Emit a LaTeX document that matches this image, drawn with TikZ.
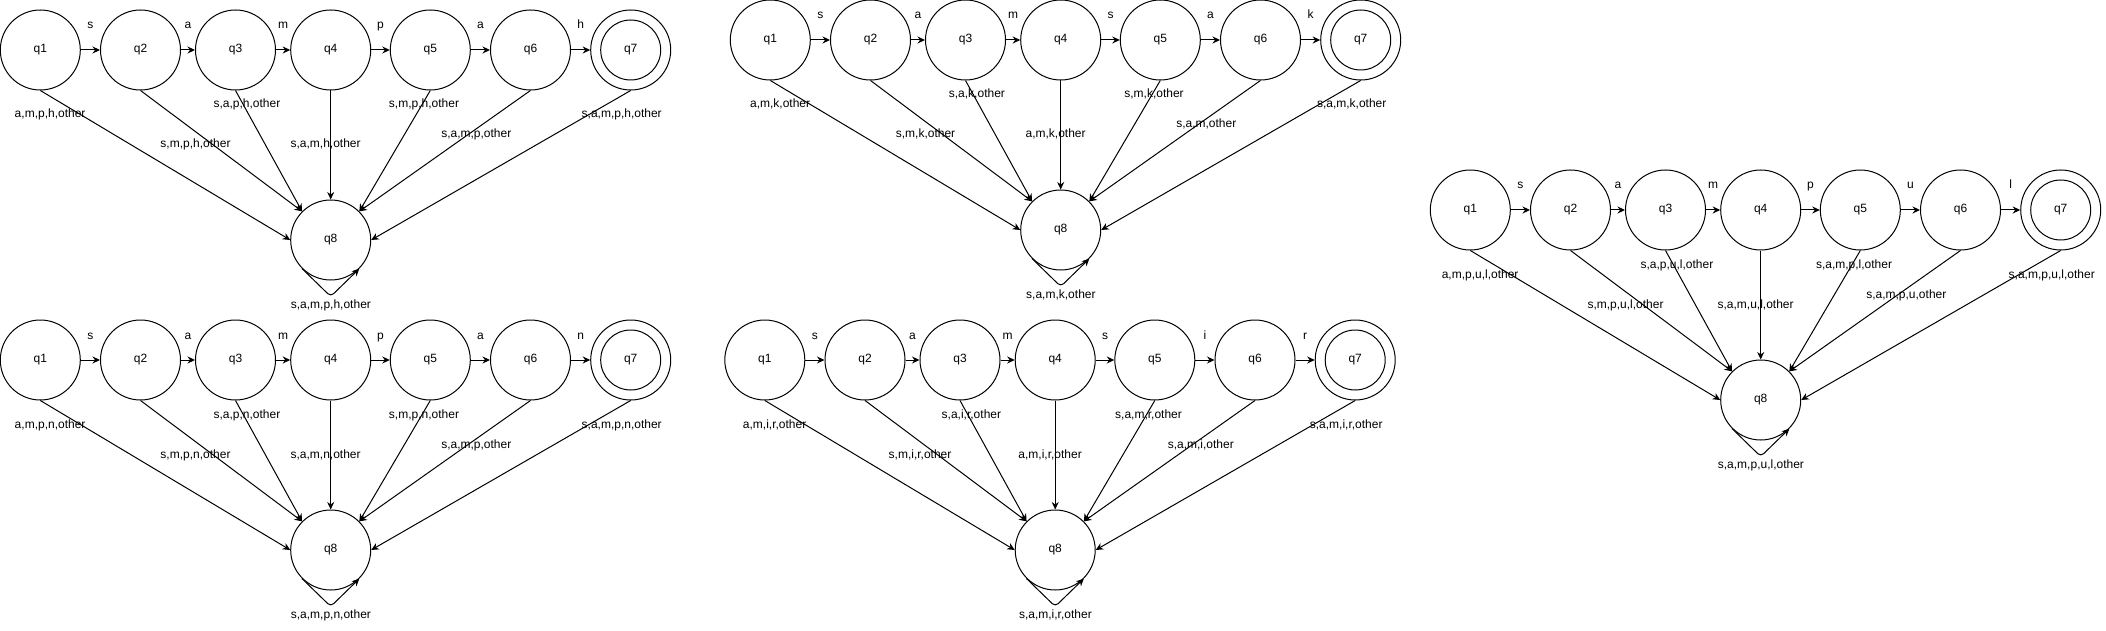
\documentclass[tikz,border=0pt]{standalone}
\usepackage{fontspec}
\setmainfont{Liberation Sans}
\usetikzlibrary{arrows.meta}

\begin{document}
\begin{tikzpicture}
[x=1pt,y=-1pt,line width=1pt,%
  every node/.style={font=\fontsize{12}{14}\selectfont},%
  state/.style={shape=circle,draw,minimum size=80pt,inner sep=0pt},%
  sym/.style={yshift=24pt,text height=8.5pt,text depth=2.5pt,inner sep=0pt},%
  lab/.style={text height=8.5pt,text depth=2.5pt,inner sep=0pt},%
  go/.style={-{Stealth[length=7.5pt,width=7pt]}}]
\useasboundingbox (0,0) rectangle (2106,631);

\begin{scope}[shift={(0,0)},name prefix=sampah-]
\node[state] (q1) at (40.3,50) {q1};
\node[state] (q2) at (140.5,50) {q2};
\node[state] (q3) at (235.5,50) {q3};
\node[state] (q4) at (330.7,50) {q4};
\node[state] (q5) at (430.3,50) {q5};
\node[state] (q6) at (530.5,50) {q6};
\node[state] (q7) at (630.7,50) {q7};
\node[state] (q8) at (330.7,240) {q8};
\draw (q7) circle[radius=30pt];
\draw[go] (q1) -- node[sym] {s} (q2);
\draw[go] (q2) -- node[sym] {a} (q3);
\draw[go] (q3) -- node[sym] {m} (q4);
\draw[go] (q4) -- node[sym] {p} (q5);
\draw[go] (q5) -- node[sym] {a} (q6);
\draw[go] (q6) -- node[sym] {h} (q7);
\draw[go] (q1.south) -- (q8.west);
\draw[go] (q2.south) -- (q8.north west);
\draw[go] (q3.south) -- (q8.north west);
\draw[go] (q4.south) -- (q8.north);
\draw[go] (q5.south) -- (q8.north east);
\draw[go] (q6.south) -- (q8.north east);
\draw[go] (q7.south) -- (q8.east);
\draw[go,rounded corners=4pt] (q8.south west) -- ([yshift=-16pt]q8.south) -- (q8.south east);
\node[lab] (r1) at (50.1,115) {a,m,p,h,other};
\node[lab] (r2) at (195.5,145) {s,m,p,h,other};
\node[lab] (r3) at (246.9,105) {s,a,p,h,other};
\node[lab] (r4) at (325.6,145) {s,a,m,h,other};
\node[lab] (r5) at (424,105) {s,m,p,h,other};
\node[lab] (r6) at (476.3,135) {s,a,m,p,other};
\node[lab] (r7) at (621.7,115) {s,a,m,p,h,other};
\node[lab] (r8) at (330.9,305) {s,a,m,p,h,other};
\end{scope}

\begin{scope}[shift={(0,310)},name prefix=sampan-]
\node[state] (q1) at (40.3,50) {q1};
\node[state] (q2) at (140.5,50) {q2};
\node[state] (q3) at (235.5,50) {q3};
\node[state] (q4) at (330.7,50) {q4};
\node[state] (q5) at (430.3,50) {q5};
\node[state] (q6) at (530.5,50) {q6};
\node[state] (q7) at (630.7,50) {q7};
\node[state] (q8) at (330.7,240) {q8};
\draw (q7) circle[radius=30pt];
\draw[go] (q1) -- node[sym] {s} (q2);
\draw[go] (q2) -- node[sym] {a} (q3);
\draw[go] (q3) -- node[sym] {m} (q4);
\draw[go] (q4) -- node[sym] {p} (q5);
\draw[go] (q5) -- node[sym] {a} (q6);
\draw[go] (q6) -- node[sym] {n} (q7);
\draw[go] (q1.south) -- (q8.west);
\draw[go] (q2.south) -- (q8.north west);
\draw[go] (q3.south) -- (q8.north west);
\draw[go] (q4.south) -- (q8.north);
\draw[go] (q5.south) -- (q8.north east);
\draw[go] (q6.south) -- (q8.north east);
\draw[go] (q7.south) -- (q8.east);
\draw[go,rounded corners=4pt] (q8.south west) -- ([yshift=-16pt]q8.south) -- (q8.south east);
\node[lab] (r1) at (50.1,115) {a,m,p,n,other};
\node[lab] (r2) at (195.5,145) {s,m,p,n,other};
\node[lab] (r3) at (246.9,105) {s,a,p,n,other};
\node[lab] (r4) at (325.6,145) {s,a,m,n,other};
\node[lab] (r5) at (424,105) {s,m,p,n,other};
\node[lab] (r6) at (476.3,135) {s,a,m,p,other};
\node[lab] (r7) at (621.7,115) {s,a,m,p,n,other};
\node[lab] (r8) at (330.9,305) {s,a,m,p,n,other};
\end{scope}

\begin{scope}[shift={(730,-10)},name prefix=samsak-]
\node[state] (q1) at (40.3,50) {q1};
\node[state] (q2) at (140.5,50) {q2};
\node[state] (q3) at (235.5,50) {q3};
\node[state] (q4) at (330.7,50) {q4};
\node[state] (q5) at (430.3,50) {q5};
\node[state] (q6) at (530.5,50) {q6};
\node[state] (q7) at (630.7,50) {q7};
\node[state] (q8) at (330.7,240) {q8};
\draw (q7) circle[radius=30pt];
\draw[go] (q1) -- node[sym] {s} (q2);
\draw[go] (q2) -- node[sym] {a} (q3);
\draw[go] (q3) -- node[sym] {m} (q4);
\draw[go] (q4) -- node[sym] {s} (q5);
\draw[go] (q5) -- node[sym] {a} (q6);
\draw[go] (q6) -- node[sym] {k} (q7);
\draw[go] (q1.south) -- (q8.west);
\draw[go] (q2.south) -- (q8.north west);
\draw[go] (q3.south) -- (q8.north west);
\draw[go] (q4.south) -- (q8.north);
\draw[go] (q5.south) -- (q8.north east);
\draw[go] (q6.south) -- (q8.north east);
\draw[go] (q7.south) -- (q8.east);
\draw[go,rounded corners=4pt] (q8.south west) -- ([yshift=-16pt]q8.south) -- (q8.south east);
\node[lab] (r1) at (50.1,115) {a,m,k,other};
\node[lab] (r2) at (195.5,145) {s,m,k,other};
\node[lab] (r3) at (246.9,105) {s,a,k,other};
\node[lab] (r4) at (325.6,145) {a,m,k,other};
\node[lab] (r5) at (424,105) {s,m,k,other};
\node[lab] (r6) at (476.3,135) {s,a,m,other};
\node[lab] (r7) at (621.7,115) {s,a,m,k,other};
\node[lab] (r8) at (330.9,305) {s,a,m,k,other};
\end{scope}

\begin{scope}[shift={(724.5,310)},name prefix=samsir-]
\node[state] (q1) at (40.3,50) {q1};
\node[state] (q2) at (140.5,50) {q2};
\node[state] (q3) at (235.5,50) {q3};
\node[state] (q4) at (330.7,50) {q4};
\node[state] (q5) at (430.3,50) {q5};
\node[state] (q6) at (530.5,50) {q6};
\node[state] (q7) at (630.7,50) {q7};
\node[state] (q8) at (330.7,240) {q8};
\draw (q7) circle[radius=30pt];
\draw[go] (q1) -- node[sym] {s} (q2);
\draw[go] (q2) -- node[sym] {a} (q3);
\draw[go] (q3) -- node[sym] {m} (q4);
\draw[go] (q4) -- node[sym] {s} (q5);
\draw[go] (q5) -- node[sym] {i} (q6);
\draw[go] (q6) -- node[sym] {r} (q7);
\draw[go] (q1.south) -- (q8.west);
\draw[go] (q2.south) -- (q8.north west);
\draw[go] (q3.south) -- (q8.north west);
\draw[go] (q4.south) -- (q8.north);
\draw[go] (q5.south) -- (q8.north east);
\draw[go] (q6.south) -- (q8.north east);
\draw[go] (q7.south) -- (q8.east);
\draw[go,rounded corners=4pt] (q8.south west) -- ([yshift=-16pt]q8.south) -- (q8.south east);
\node[lab] (r1) at (50.1,115) {a,m,i,r,other};
\node[lab] (r2) at (195.5,145) {s,m,i,r,other};
\node[lab] (r3) at (246.9,105) {s,a,i,r,other};
\node[lab] (r4) at (325.6,145) {a,m,i,r,other};
\node[lab] (r5) at (424,105) {s,a,m,r,other};
\node[lab] (r6) at (476.3,135) {s,a,m,i,other};
\node[lab] (r7) at (621.7,115) {s,a,m,i,r,other};
\node[lab] (r8) at (330.9,305) {s,a,m,i,r,other};
\end{scope}

\begin{scope}[shift={(1430,160)},name prefix=sampul-]
\node[state] (q1) at (40.3,50) {q1};
\node[state] (q2) at (140.5,50) {q2};
\node[state] (q3) at (235.5,50) {q3};
\node[state] (q4) at (330.7,50) {q4};
\node[state] (q5) at (430.3,50) {q5};
\node[state] (q6) at (530.5,50) {q6};
\node[state] (q7) at (630.7,50) {q7};
\node[state] (q8) at (330.7,240) {q8};
\draw (q7) circle[radius=30pt];
\draw[go] (q1) -- node[sym] {s} (q2);
\draw[go] (q2) -- node[sym] {a} (q3);
\draw[go] (q3) -- node[sym] {m} (q4);
\draw[go] (q4) -- node[sym] {p} (q5);
\draw[go] (q5) -- node[sym] {u} (q6);
\draw[go] (q6) -- node[sym] {l} (q7);
\draw[go] (q1.south) -- (q8.west);
\draw[go] (q2.south) -- (q8.north west);
\draw[go] (q3.south) -- (q8.north west);
\draw[go] (q4.south) -- (q8.north);
\draw[go] (q5.south) -- (q8.north east);
\draw[go] (q6.south) -- (q8.north east);
\draw[go] (q7.south) -- (q8.east);
\draw[go,rounded corners=4pt] (q8.south west) -- ([yshift=-16pt]q8.south) -- (q8.south east);
\node[lab] (r1) at (50.1,115) {a,m,p,u,l,other};
\node[lab] (r2) at (195.5,145) {s,m,p,u,l,other};
\node[lab] (r3) at (246.9,105) {s,a,p,u,l,other};
\node[lab] (r4) at (325.6,145) {s,a,m,u,l,other};
\node[lab] (r5) at (424,105) {s,a,m,p,l,other};
\node[lab] (r6) at (476.3,135) {s,a,m,p,u,other};
\node[lab] (r7) at (621.7,115) {s,a,m,p,u,l,other};
\node[lab] (r8) at (330.9,305) {s,a,m,p,u,l,other};
\end{scope}
\end{tikzpicture}
\end{document}
